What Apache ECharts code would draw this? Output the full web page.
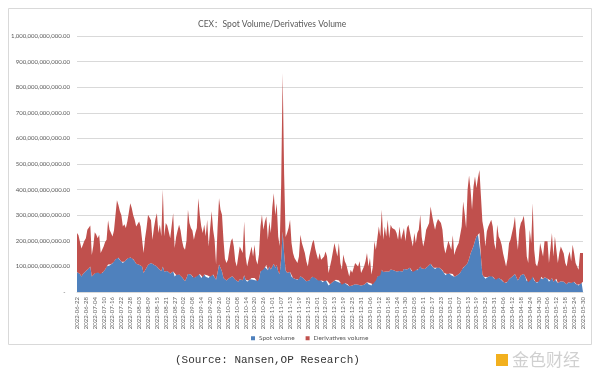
<!DOCTYPE html>
<html>
<head>
<meta charset="utf-8">
<script src="https://cdn.jsdelivr.net/npm/echarts@6/dist/echarts.min.js"></script>
<style>
  html, body { margin: 0; padding: 0; background: #fff; }
  #chart { width: 600px; height: 375px; }
</style>
</head>
<body>
<div id="chart"></div>
<script>
// daily volumes in billions of USD, 2022-06-22 .. 2023-05-30
const startDate = '2022-06-22'
const dayCount = 343

const spotVolume = [
  78, 76, 70, 61, 70, 75, 82, 87, 92, 100,
  61, 66, 72, 80, 76, 75, 70, 74, 80, 88,
  100, 107, 104, 108, 112, 118, 128, 139, 134, 125,
  118, 113, 118, 124, 130, 135, 135, 133, 128, 120,
  110, 106, 106, 103, 100, 74, 85, 95, 105, 110,
  113, 112, 106, 100, 100, 92, 85, 82, 100, 80,
  80, 82, 78, 72, 75, 80, 61, 66, 72, 68,
  64, 58, 50, 42, 55, 70, 75, 68, 60, 55,
  58, 62, 75, 70, 55, 58, 68, 60, 65, 55,
  60, 72, 68, 58, 48, 75, 107, 95, 80, 55,
  48, 45, 50, 55, 60, 62, 55, 48, 42, 40,
  50, 52, 46, 65, 48, 40, 45, 50, 55, 48,
  55, 45, 42, 50, 80, 95, 88, 98, 105, 85,
  100, 88, 100, 110, 95, 105, 80, 70, 130, 236,
  150, 85, 75, 80, 78, 60, 55, 52, 50, 48,
  50, 62, 58, 54, 48, 42, 38, 45, 55, 60,
  62, 55, 50, 45, 50, 45, 38, 42, 48, 45,
  25, 30, 35, 40, 45, 48, 40, 45, 35, 28,
  40, 35, 30, 30, 22, 28, 25, 24, 30, 32,
  28, 30, 25, 22, 28, 32, 38, 30, 35, 25,
  30, 50, 45, 60, 70, 65, 87, 78, 82, 80,
  85, 80, 88, 90, 85, 82, 80, 75, 82, 78,
  80, 90, 85, 88, 92, 95, 82, 78, 88, 85,
  85, 90, 100, 92, 85, 90, 95, 100, 105, 110,
  100, 95, 90, 95, 98, 95, 90, 85, 75, 65,
  70, 75, 72, 65, 70, 60, 62, 65, 70, 75,
  88, 95, 100, 105, 113, 130, 150, 165, 180, 200,
  217, 225, 230, 140, 68, 60, 52, 58, 60, 62,
  65, 60, 52, 48, 58, 55, 52, 48, 40, 35,
  35, 40, 50, 55, 60, 65, 70, 58, 45, 55,
  65, 68, 70, 60, 42, 38, 55, 50, 60, 45,
  38, 35, 40, 55, 60, 50, 58, 55, 52, 40,
  45, 55, 40, 50, 52, 35, 38, 42, 45, 40,
  35, 30, 38, 42, 35, 45, 40, 32, 28, 25, 30, 38, 40
]

const derivativesVolume = [
  152, 146, 145, 109, 115, 125, 128, 156, 158, 160,
  84, 114, 161, 145, 134, 149, 82, 91, 98, 107,
  104, 173, 139, 122, 105, 122, 172, 219, 206, 190,
  182, 143, 147, 126, 145, 175, 212, 195, 172, 162,
  146, 156, 169, 153, 162, 78, 125, 155, 197, 198,
  167, 92, 144, 185, 208, 138, 178, 136, 300, 138,
  190, 178, 177, 138, 185, 228, 111, 149, 168, 195,
  176, 142, 125, 123, 145, 251, 195, 182, 180, 149,
  172, 188, 291, 230, 201, 172, 195, 158, 217, 123,
  190, 243, 175, 146, 59, 175, 259, 226, 222, 149,
  82, 68, 76, 110, 138, 148, 123, 72, 58, 60,
  128, 133, 106, 210, 91, 60, 81, 102, 123, 91,
  130, 81, 65, 96, 176, 207, 155, 177, 190, 119,
  175, 142, 230, 276, 205, 242, 137, 110, 290, 619,
  310, 130, 155, 170, 204, 131, 97, 81, 76, 65,
  89, 162, 133, 118, 104, 78, 62, 94, 110, 131,
  142, 115, 96, 81, 102, 81, 92, 97, 110, 94,
  49, 70, 91, 118, 146, 150, 99, 146, 78, 59,
  106, 85, 77, 83, 39, 59, 50, 46, 83, 88,
  72, 90, 49, 46, 72, 88, 114, 70, 98, 43,
  70, 148, 120, 150, 186, 152, 234, 126, 174, 137,
  197, 130, 175, 160, 158, 161, 150, 129, 174, 126,
  120, 160, 113, 162, 171, 175, 122, 100, 142, 106,
  145, 153, 202, 123, 93, 114, 148, 156, 165, 224,
  200, 175, 153, 175, 187, 187, 180, 158, 103, 85,
  105, 125, 132, 100, 152, 85, 103, 115, 121, 123,
  168, 259, 208, 145, 287, 325, 250, 156, 232, 251,
  189, 220, 247, 236, 208, 183, 126, 178, 196, 194,
  217, 196, 139, 117, 205, 162, 152, 137, 110, 91,
  65, 90, 140, 149, 170, 191, 225, 159, 120, 188,
  205, 212, 228, 183, 97, 75, 188, 141, 287, 120,
  72, 65, 86, 136, 138, 89, 140, 136, 146, 73,
  125, 175, 99, 167, 165, 78, 114, 136, 140, 110,
  78, 70, 101, 116, 85, 140, 112, 81, 72, 62, 122, 120, 112
]

// 日期类目
const dates = []
const d0 = new Date(startDate + 'T00:00:00Z')
for (let i = 0; i < dayCount; i++) {
  const d = new Date(d0.getTime() + i * 86400000)
  dates.push(d.toISOString().slice(0, 10))
}

function formatYLabel(v) {
  if (v === 0) return '-   '
  return (v * 1e9).toLocaleString('en-US', { minimumFractionDigits: 2, maximumFractionDigits: 2 })
}

const chart = echarts.init(document.getElementById('chart'))

const option = {
  animation: false,
  backgroundColor: '#fff',
  textStyle: { fontFamily: 'Lato, Noto Sans CJK SC, sans-serif' },
  title: {
    text: 'CEX：Spot Volume/Derivatives Volume',
    left: 193,
    top: 15,
    textStyle: {
      fontSize: 8.5,
      fontWeight: 'normal',
      color: '#595959',
      fontFamily: 'Lato, Noto Sans CJK SC, sans-serif'
    }
  },
  grid: {
    left: 77,
    right: 17,
    top: 36,
    bottom: 83
  },
  legend: {
    left: 246,
    top: 330,
    itemWidth: 4,
    itemHeight: 4,
    itemGap: 11,
    icon: 'rect',
    textStyle: { fontSize: 6.5, color: '#595959', padding: [0, 0, 0, -1] },
    data: ['Spot volume', 'Derivatives volume']
  },
  xAxis: {
    type: 'category',
    data: dates,
    boundaryGap: false,
    axisLine: { lineStyle: { color: '#d9d9d9' } },
    axisTick: { show: false },
    axisLabel: {
      interval: 5,
      rotate: 90,
      fontSize: 6,
      color: '#666',
      margin: 5
    }
  },
  yAxis: {
    type: 'value',
    min: 0,
    max: 1000,
    interval: 100,
    axisLine: { show: false },
    axisTick: { show: false },
    axisLabel: {
      fontSize: 6,
      color: '#595959',
      margin: 7,
      formatter: formatYLabel
    },
    splitLine: { lineStyle: { color: '#d9d9d9', width: 1 } }
  },
  series: [
    {
      name: 'Spot volume',
      type: 'line',
      stack: 'total',
      data: spotVolume,
      showSymbol: false,
      lineStyle: { width: 0 },
      itemStyle: { color: '#4F81BD' },
      areaStyle: { color: '#4F81BD', opacity: 1 }
    },
    {
      name: 'Derivatives volume',
      type: 'line',
      stack: 'total',
      data: derivativesVolume,
      showSymbol: false,
      lineStyle: { width: 0 },
      itemStyle: { color: '#C0504D' },
      areaStyle: { color: '#C0504D', opacity: 1 }
    }
  ],
  graphic: [
    {
      type: 'rect',
      z: -10,
      shape: { x: 8.5, y: 8.5, width: 583, height: 336 },
      style: { fill: '#fff', stroke: '#d9d9d9', lineWidth: 1 }
    },
    {
      type: 'text',
      left: 175,
      top: 355,
      style: {
        text: '(Source: Nansen,OP Research)',
        font: '11px "Liberation Mono", monospace',
        fill: '#333'
      }
    },
    {
      type: 'rect',
      shape: { x: 496, y: 354, width: 12, height: 12 },
      style: { fill: '#F2B01E' }
    },
    {
      type: 'text',
      left: 512,
      top: 351,
      style: {
        text: '金色财经',
        font: '17px "Noto Sans CJK SC", sans-serif',
        fill: '#d0d0d0'
      }
    }
  ]
}

chart.setOption(option)
</script>
</body>
</html>
